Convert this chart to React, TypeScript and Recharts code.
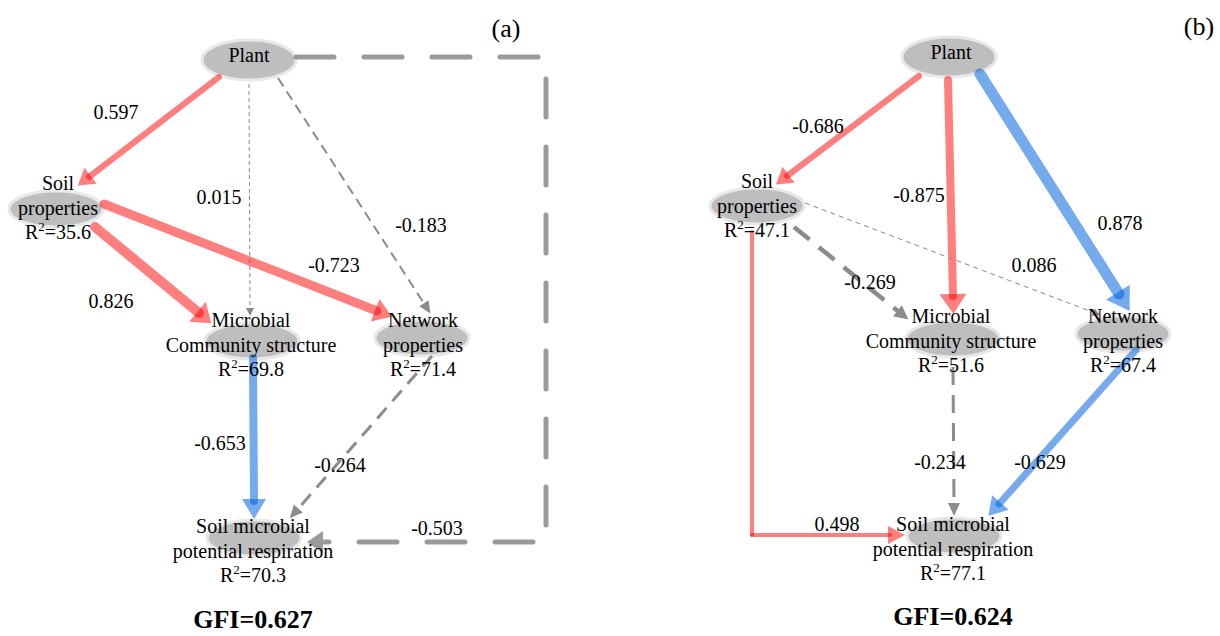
import { ScatterChart, Scatter, XAxis, YAxis } from "recharts";

const SERIF = "'Liberation Serif', 'Times New Roman', Times, serif";

// ---- panel (a): node centres, node captions, path coefficients ----
const NODES_A = [
  { name: "Plant", x: 249, y: 60 },
  { name: "Soil properties", x: 56, y: 209 },
  { name: "Microbial community structure", x: 252, y: 341 },
  { name: "Network properties", x: 422, y: 338 },
  { name: "Soil microbial potential respiration", x: 254, y: 538 },
];
const CAPTIONS_A = [
  { x: 249, y: 62, lines: ["Plant"], r2: "" },
  { x: 58, y: 190, lines: ["Soil", "properties"], r2: "35.6" },
  { x: 251, y: 327, lines: ["Microbial", "Community structure"], r2: "69.8" },
  { x: 423, y: 327, lines: ["Network", "properties"], r2: "71.4" },
  { x: 253, y: 533, lines: ["Soil microbial", "potential respiration"], r2: "70.3" },
];
const EDGES_A = [
  { id: "a_ps", path: [[219, 77], [89, 177]] },
  { id: "a_pm", path: [[249, 84], [250, 310]] },
  { id: "a_pn", path: [[278, 78], [425, 305]] },
  { id: "a_sm", path: [[95, 227], [199, 313]] },
  { id: "a_sn", path: [[104, 204], [377, 311]] },
  { id: "a_mr", path: [[253, 358], [254, 501]] },
  { id: "a_nr", path: [[432, 356], [297, 510]] },
  { id: "a_pr", path: [[296, 57], [546, 57], [546, 542], [321, 542]] },
];
const COEFS_A = [
  { text: "0.597", x: 116, y: 119 },
  { text: "0.015", x: 219, y: 204 },
  { text: "-0.183", x: 421, y: 232 },
  { text: "-0.723", x: 334, y: 272 },
  { text: "0.826", x: 111, y: 308 },
  { text: "-0.653", x: 220, y: 450 },
  { text: "-0.264", x: 340, y: 472 },
  { text: "-0.503", x: 437, y: 535 },
];

// ---- panel (b) ----
const NODES_B = [
  { name: "Plant", x: 949, y: 57 },
  { name: "Soil properties", x: 757, y: 206 },
  { name: "Microbial community structure", x: 953, y: 339 },
  { name: "Network properties", x: 1123, y: 334 },
  { name: "Soil microbial potential respiration", x: 954, y: 536 },
];
const CAPTIONS_B = [
  { x: 951, y: 59, lines: ["Plant"], r2: "" },
  { x: 757, y: 188, lines: ["Soil", "properties"], r2: "47.1" },
  { x: 951, y: 323, lines: ["Microbial", "Community structure"], r2: "51.6" },
  { x: 1123, y: 323, lines: ["Network", "properties"], r2: "67.4" },
  { x: 953, y: 531, lines: ["Soil microbial", "potential respiration"], r2: "77.1" },
];
const EDGES_B = [
  { id: "b_ps", path: [[919, 76], [787, 176]] },
  { id: "b_pm", path: [[948, 80], [953, 296]] },
  { id: "b_pn", path: [[980, 74], [1119, 294]] },
  { id: "b_sm", path: [[794, 227], [899, 312]] },
  { id: "b_sn", path: [[805, 203], [1095, 313]] },
  { id: "b_sr", path: [[752, 232], [752, 535], [890, 535]] },
  { id: "b_mr", path: [[953, 367], [954, 505]] },
  { id: "b_nr", path: [[1136, 350], [999, 504]] },
];
const COEFS_B = [
  { text: "-0.686", x: 818, y: 133 },
  { text: "-0.875", x: 919, y: 202 },
  { text: "0.878", x: 1120, y: 230 },
  { text: "-0.269", x: 870, y: 289 },
  { text: "0.086", x: 1034, y: 272 },
  { text: "0.498", x: 837, y: 531 },
  { text: "-0.234", x: 940, y: 469 },
  { text: "-0.629", x: 1040, y: 469 },
];

const TITLES = [
  { text: "(a)", x: 506, y: 37, kind: "panel" },
  { text: "(b)", x: 1199, y: 35, kind: "panel" },
  { text: "GFI=0.627", x: 253, y: 628, kind: "gfi" },
  { text: "GFI=0.624", x: 953, y: 625, kind: "gfi" },
];

const RED = "rgba(255, 0, 0, 0.5)";
const BLUE = "rgba(0, 98, 222, 0.54)";
const GRAY = "#8c8c8c";

type EdgeStyle = {
  color: string;
  width: number;
  dash?: string;
  round?: boolean;
  split?: boolean;
  head: [number, number];
};

const EDGE_STYLE: Record<string, EdgeStyle> = {
  a_ps: { color: RED, width: 6, round: true, split: true, head: [16, 20] },
  a_pm: { color: "#888", width: 1, dash: "4 3", head: [8, 8] },
  a_pn: { color: GRAY, width: 2, dash: "10 6", head: [12, 11] },
  a_sm: { color: RED, width: 10, round: true, split: true, head: [18, 26] },
  a_sn: { color: RED, width: 9, round: true, split: true, head: [18, 24] },
  a_mr: { color: BLUE, width: 8, round: true, split: true, head: [20, 24] },
  a_nr: { color: GRAY, width: 3, dash: "14 9", head: [13, 12] },
  a_pr: { color: "#9a9a9a", width: 5, dash: "38 30", round: true, head: [16, 22] },
  b_ps: { color: RED, width: 6, round: true, split: true, head: [16, 20] },
  b_pm: { color: RED, width: 8, round: true, split: true, head: [20, 27] },
  b_pn: { color: BLUE, width: 11, round: true, split: true, head: [22, 28] },
  b_sm: { color: GRAY, width: 4.5, dash: "20 12", head: [14, 14] },
  b_sn: { color: "#888", width: 1, dash: "5 4", head: [8, 8] },
  b_sr: { color: RED, width: 4, round: true, split: true, head: [17, 18] },
  b_mr: { color: GRAY, width: 3, dash: "18 10", head: [13, 12] },
  b_nr: { color: BLUE, width: 7, round: true, split: true, head: [18, 22] },
};

type Pt = { x: number; y: number; ang?: number; tip?: boolean };

function buildSegments(edges: { id: string; path: number[][] }[]) {
  const out: { key: string; style: EdgeStyle; data: Pt[] }[] = [];
  edges.forEach((e) => {
    const style = EDGE_STYLE[e.id];
    const pts = e.path.map(([x, y]) => ({ x, y } as Pt));
    const n = pts.length;
    const prev = pts[n - 2];
    const last = pts[n - 1];
    last.tip = true;
    last.ang = Math.atan2(last.y - prev.y, last.x - prev.x);
    if (style.split) {
      for (let i = 0; i < n - 1; i++) {
        out.push({ key: `${e.id}-${i}`, style, data: [pts[i], pts[i + 1]] });
      }
    } else {
      out.push({ key: e.id, style, data: pts });
    }
  });
  return out;
}

const SEGMENTS = [...buildSegments(EDGES_A), ...buildSegments(EDGES_B)];

function arrowShape(style: EdgeStyle) {
  return (props: any) => {
    const { cx, cy, payload } = props;
    if (!payload || !payload.tip) return <g />;
    const ux = Math.cos(payload.ang);
    const uy = Math.sin(payload.ang);
    const [len, w] = style.head;
    const bx = cx - ux * 2;
    const by = cy - uy * 2;
    const hw = w / 2;
    const pts = [
      [bx + ux * len, by + uy * len],
      [bx - uy * hw, by + ux * hw],
      [bx + uy * hw, by - ux * hw],
    ]
      .map((p) => `${p[0]},${p[1]}`)
      .join(" ");
    return <polygon points={pts} fill={style.color} />;
  };
}

const EllipseShape = (props: any) => {
  const { cx, cy, payload } = props;
  const ry = payload.name === "Plant" ? 20 : 18;
  return (
    <ellipse cx={cx} cy={cy} rx={47} ry={ry} fill="#bebebe" stroke="#e8e8e8" strokeWidth={3} />
  );
};

const textStyle = { fontFamily: SERIF, fontSize: 20 };

const CaptionShape = (props: any) => {
  const { cx, cy, payload } = props;
  const lines: string[] = payload.lines;
  return (
    <g style={textStyle} fill="#000" textAnchor="middle">
      {lines.map((l, i) => (
        <text key={i} x={cx} y={cy + i * 24.5} style={textStyle}>
          {l}
        </text>
      ))}
      {payload.r2 && (
        <text x={cx} y={cy + lines.length * 24.5} style={textStyle}>
          R<tspan dy={-8} style={{ fontSize: 13 }}>2</tspan>
          <tspan dy={8}>={payload.r2}</tspan>
        </text>
      )}
    </g>
  );
};

const CoefShape = (props: any) => {
  const { cx, cy, payload } = props;
  return (
    <text x={cx} y={cy} textAnchor="middle" fill="#000" style={textStyle}>
      {payload.text}
    </text>
  );
};

const TitleShape = (props: any) => {
  const { cx, cy, payload } = props;
  const gfi = payload.kind === "gfi";
  return (
    <text
      x={cx}
      y={cy}
      textAnchor="middle"
      fill="#000"
      style={{ fontFamily: SERIF, fontSize: gfi ? 26 : 26, fontWeight: gfi ? 700 : 400 }}
    >
      {payload.text}
    </text>
  );
};

export default function App() {
  return (
    <div style={{ position: "absolute", left: 0, top: 0, background: "#fff" }}>
      <ScatterChart width={1220} height={636} margin={{ top: 0, right: 0, bottom: 0, left: 0 }}>
        <XAxis type="number" dataKey="x" domain={[0, 1220]} hide />
        <YAxis type="number" dataKey="y" domain={[0, 636]} reversed hide />
        <Scatter data={[...NODES_A, ...NODES_B]} shape={EllipseShape} isAnimationActive={false} />
        {SEGMENTS.map((s) => (
          <Scatter
            key={s.key}
            data={s.data}
            line={{
              stroke: s.style.color,
              strokeWidth: s.style.width,
              strokeDasharray: s.style.dash,
              strokeLinecap: s.style.round ? "round" : "butt",
              strokeLinejoin: "round",
              fill: "none",
            }}
            shape={arrowShape(s.style)}
            isAnimationActive={false}
          />
        ))}
        <Scatter data={[...CAPTIONS_A, ...CAPTIONS_B]} shape={CaptionShape} isAnimationActive={false} />
        <Scatter data={[...COEFS_A, ...COEFS_B]} shape={CoefShape} isAnimationActive={false} />
        <Scatter data={TITLES} shape={TitleShape} isAnimationActive={false} />
      </ScatterChart>
    </div>
  );
}
